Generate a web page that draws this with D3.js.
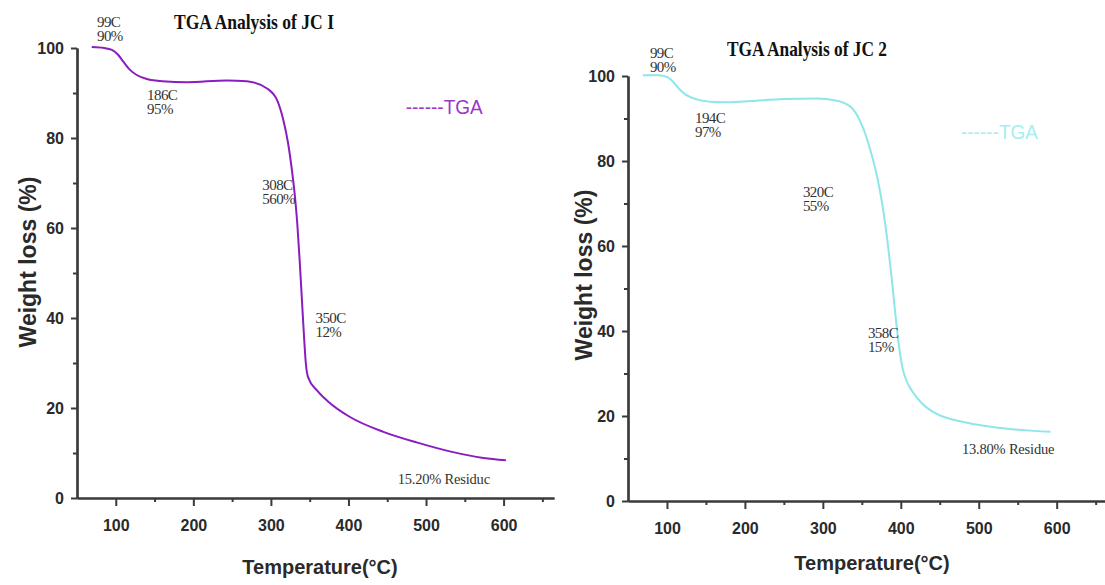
<!DOCTYPE html>
<html>
<head>
<meta charset="utf-8">
<script src="https://cdn.jsdelivr.net/npm/d3@7"></script>
<style>
  html, body { margin: 0; padding: 0; background: #fff; }
  svg { display: block; }
</style>
</head>
<body>
<svg id="chart" width="1105" height="585"></svg>
<script>
// ---------- DATA ----------
const jc1Temp   = [69, 85, 95, 103, 110, 118, 127, 140, 160, 192, 243, 269, 295, 308, 316, 322, 327, 331, 334, 337, 340, 343, 345, 348, 360, 374, 402, 445, 489, 532, 574, 603];
const jc1Weight = [100.2, 100.0, 99.6, 98.5, 96.9, 95.2, 94.0, 93.1, 92.6, 92.4, 92.8, 92.6, 91.0, 88.4, 84.0, 79.0, 73.0, 67.0, 61.0, 53.0, 44.0, 35.0, 30.0, 26.8, 23.8, 21.4, 18.0, 14.7, 12.3, 10.3, 8.9, 8.4];

const jc2Temp   = [69, 90, 100, 108, 116, 125, 138, 160, 180, 208, 250, 292, 318, 336, 349, 362, 370, 377, 383, 388, 393, 398, 402, 408, 414, 427, 442, 485, 528, 571, 592];
const jc2Weight = [100.2, 100.2, 99.8, 98.6, 96.9, 95.5, 94.5, 93.9, 93.8, 94.1, 94.6, 94.7, 94.2, 92.7, 88.9, 81.9, 76.0, 69.0, 61.0, 53.0, 44.0, 36.0, 31.5, 28.0, 26.0, 23.0, 20.9, 18.4, 17.2, 16.5, 16.3];

const yMajorTicks = [0, 20, 40, 60, 80, 100];
const yMinorTicks = [10, 30, 50, 70, 90];
const xMajorTicks = [100, 200, 300, 400, 500, 600];
const xMinorTicks = [150, 250, 350, 450, 550, 650];

const titles = ["TGA Analysis of  JC I", "TGA Analysis of  JC 2"];
const xLabel = "Temperature(°C)";
const yLabel = "Weight loss (%)";
const legendLabel = "------TGA";

// annotations: [line1, line2, temperature, weight]
const jc1Notes = [["99C", "90%", 75.8, 104.7], ["186C", "95%", 140.4, 88.4], ["308C", "560%", 289, 68.4], ["350C", "12%", 357.5, 38.9]];
const jc2Notes = [["99C", "90%", 78.2, 104.2], ["194C", "97%", 136, 88.9], ["320C", "55%", 274.5, 71.5], ["358C", "15%", 357.9, 38.4]];
const jc1Residue = ["15.20% Residuc", 463.4, 3.1];
const jc2Residue = ["13.80% Residue", 478.5, 11.1];
const jc1Legend = [473.8, 85.3];
const jc2Legend = [477.2, 85.2];

// ---------- LAYOUT ----------
const panels = [
  { temp: jc1Temp, weight: jc1Weight, notes: jc1Notes, residue: jc1Residue, legend: jc1Legend, title: titles[0],
    xDomain: [50, 665], xRange: [77, 554], yRange: [498, 48],
    lineColor: "#8a1dbd", legendColor: "#9b36c9",
    titlePos: [254, 29], yLabelPos: [28, 262], xLabelPos: [320, 574] },
  { temp: jc2Temp, weight: jc2Weight, notes: jc2Notes, residue: jc2Residue, legend: jc2Legend, title: titles[1],
    xDomain: [50, 662], xRange: [628, 1105], yRange: [501, 76],
    lineColor: "#8ee5ea", legendColor: "#a5eef1",
    titlePos: [807, 56], yLabelPos: [584, 275], xLabelPos: [872, 570] }
];

const svg = d3.select("#chart");
svg.append("rect").attr("width", 1105).attr("height", 585).attr("fill", "#fff");

panels.forEach(p => {
  const x = d3.scaleLinear().domain(p.xDomain).range(p.xRange);
  const y = d3.scaleLinear().domain([0, 100]).range(p.yRange);
  const g = svg.append("g");
  const x0 = p.xRange[0], y0 = p.yRange[0];

  g.append("g").attr("transform", `translate(${x0},0)`)
    .call(d3.axisLeft(y).tickValues(yMajorTicks).tickSize(6).tickSizeOuter(0).tickPadding(7).tickFormat(d3.format("d")));
  g.append("g").attr("transform", `translate(${x0},0)`)
    .call(d3.axisLeft(y).tickValues(yMinorTicks).tickSize(4).tickSizeOuter(0).tickFormat(""));
  g.append("g").attr("transform", `translate(0,${y0})`)
    .call(d3.axisBottom(x).tickValues(xMajorTicks).tickSize(8).tickSizeOuter(0).tickPadding(14).tickFormat(d3.format("d")));
  g.append("g").attr("transform", `translate(0,${y0})`)
    .call(d3.axisBottom(x).tickValues(xMinorTicks).tickSize(4).tickSizeOuter(0).tickFormat(""));

  g.selectAll(".domain").attr("stroke", "#3a3a3a").attr("stroke-width", 2.2);
  g.selectAll(".tick line").attr("stroke", "#3a3a3a").attr("stroke-width", 2);
  g.selectAll(".tick text")
    .attr("font-family", "'Liberation Sans', Arial, sans-serif")
    .attr("font-weight", "bold").attr("font-size", 16).attr("fill", "#2a2a2a");

  const pts = p.temp.map((t, i) => [t, p.weight[i]]);
  g.append("path").datum(pts)
    .attr("fill", "none").attr("stroke", p.lineColor).attr("stroke-width", 2)
    .attr("d", d3.line().x(d => x(d[0])).y(d => y(d[1])).curve(d3.curveMonotoneX));

  g.append("text").attr("x", p.titlePos[0]).attr("y", p.titlePos[1])
    .attr("text-anchor", "middle")
    .attr("font-family", "'Liberation Serif', 'Times New Roman', serif")
    .attr("font-weight", "bold").attr("font-size", 21)
    .attr("textLength", 160).attr("lengthAdjust", "spacingAndGlyphs")
    .attr("fill", "#111").text(p.title);

  g.append("text")
    .attr("transform", `translate(${p.yLabelPos[0]},${p.yLabelPos[1]}) rotate(-90)`)
    .attr("text-anchor", "middle").attr("dy", "0.35em")
    .attr("font-family", "'Liberation Sans', Arial, sans-serif")
    .attr("font-weight", "bold").attr("font-size", 23).attr("fill", "#2a2a2a")
    .text(yLabel);
  g.append("text").attr("x", p.xLabelPos[0]).attr("y", p.xLabelPos[1])
    .attr("text-anchor", "middle")
    .attr("font-family", "'Liberation Sans', Arial, sans-serif")
    .attr("font-weight", "bold").attr("font-size", 20).attr("fill", "#2a2a2a")
    .text(xLabel);

  const serif = "'Liberation Serif', 'Times New Roman', serif";
  p.notes.forEach(n => {
    const t = g.append("text").attr("x", x(n[2])).attr("y", y(n[3]))
      .attr("font-family", serif).attr("font-size", 15).attr("letter-spacing", -0.6).attr("fill", "#333");
    t.append("tspan").attr("x", x(n[2])).text(n[0]);
    t.append("tspan").attr("x", x(n[2])).attr("dy", 14).text(n[1]);
  });
  g.append("text").attr("x", x(p.residue[1])).attr("y", y(p.residue[2]))
    .attr("font-family", serif).attr("font-size", 14.5).attr("letter-spacing", -0.2).attr("fill", "#333")
    .text(p.residue[0]);

  g.append("text").attr("x", x(p.legend[0])).attr("y", y(p.legend[1]))
    .attr("font-family", "'Liberation Sans', Arial, sans-serif")
    .attr("font-size", 20).attr("fill", p.legendColor)
    .attr("textLength", 77).attr("lengthAdjust", "spacingAndGlyphs")
    .text(legendLabel);
});
</script>
</body>
</html>
